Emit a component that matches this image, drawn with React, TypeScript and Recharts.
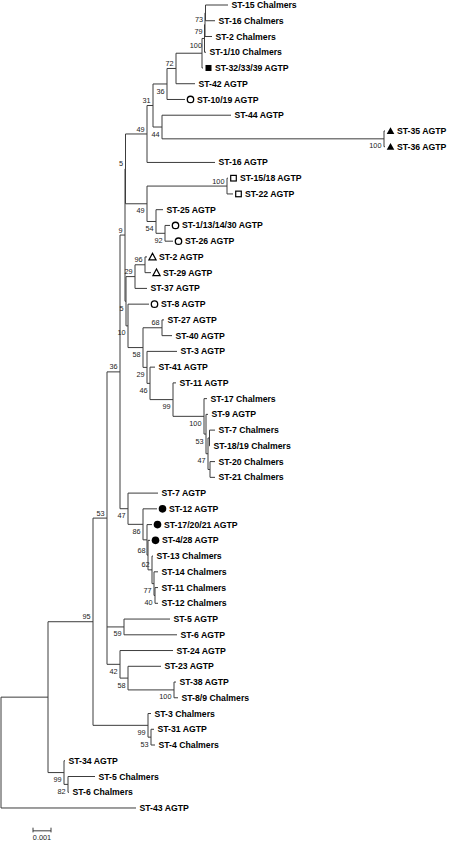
import React from 'react';
import { ScatterChart, Scatter, XAxis, YAxis, ReferenceLine } from 'recharts';

// leaves, top to bottom
const tipNames = [
  'ST-15 Chalmers', 'ST-16 Chalmers', 'ST-2 Chalmers', 'ST-1/10 Chalmers', 'ST-32/33/39 AGTP',
  'ST-42 AGTP', 'ST-10/19 AGTP', 'ST-44 AGTP', 'ST-35 AGTP', 'ST-36 AGTP',
  'ST-16 AGTP', 'ST-15/18 AGTP', 'ST-22 AGTP', 'ST-25 AGTP', 'ST-1/13/14/30 AGTP',
  'ST-26 AGTP', 'ST-2 AGTP', 'ST-29 AGTP', 'ST-37 AGTP', 'ST-8 AGTP',
  'ST-27 AGTP', 'ST-40 AGTP', 'ST-3 AGTP', 'ST-41 AGTP', 'ST-11 AGTP',
  'ST-17 Chalmers', 'ST-9 AGTP', 'ST-7 Chalmers', 'ST-18/19 Chalmers', 'ST-20 Chalmers',
  'ST-21 Chalmers', 'ST-7 AGTP', 'ST-12 AGTP', 'ST-17/20/21 AGTP', 'ST-4/28 AGTP',
  'ST-13 Chalmers', 'ST-14 Chalmers', 'ST-11 Chalmers', 'ST-12 Chalmers', 'ST-5 AGTP',
  'ST-6 AGTP', 'ST-24 AGTP', 'ST-23 AGTP', 'ST-38 AGTP', 'ST-8/9 Chalmers',
  'ST-3 Chalmers', 'ST-31 AGTP', 'ST-4 Chalmers', 'ST-34 AGTP', 'ST-5 Chalmers',
  'ST-6 Chalmers', 'ST-43 AGTP',
];

const tipParents = [
  'n73', 'n73', 'n79', 'nx', 'n100a',
  'n72', 'n36t', 'n44', 'n100t', 'n100t',
  'n49a', 'n100s', 'n100s', 'n54', 'n92',
  'n92', 'n96', 'n96', 'n29a', 'n10',
  'n68b', 'n68b', 'n29b', 'n46', 'n99m',
  'n100m', 'nc', 'nd', 'nd', 'n47c',
  'n47c', 'n47', 'nw', 'n86', 'n68',
  'n62', 'n77', 'n40', 'n40', 'n59',
  'n59', 'n42', 'n58', 'n100d', 'n100d',
  'n99c', 'n53c', 'n53c', 'n99b', 'n82',
  'n82', 'root',
];

// distance from the left edge of the tree (scale bar 0.001 = 18 units)
const tipDepths = [
  228, 215, 212, 206, 203,
  195, 185, 231, 385, 385,
  215, 228, 233, 163, 170,
  173, 147, 151, 147, 149,
  164, 172, 177, 155, 176,
  207, 208, 215, 210, 215,
  215, 158, 157, 152, 150,
  153, 158, 158, 158, 170,
  177, 173, 161, 176, 178,
  151, 154, 155, 65, 95,
  69, 136,
];

const tipMarkers = [
  '', '', '', '', 'fs',
  '', 'oc', '', 'ft', 'ft',
  '', 'os', 'os', '', 'oc',
  'oc', 'ot', 'ot', '', 'oc',
  '', '', '', '', '',
  '', '', '', '', '',
  '', '', 'fc', 'fc', 'fc',
  '', '', '', '', '',
  '', '', '', '', '',
  '', '', '', '', '',
  '', '',
];

const nodeIds = [
  'root', 'na', 'n95', 'n99b', 'n82', 'n53', 'n99c', 'n53c', 'n36', 'n59',
  'n42', 'n58', 'n100d', 'n9', 'n47', 'nw', 'n86', 'n68', 'n62', 'n77',
  'n40', 'n5a', 'n49a', 'n31', 'n36t', 'n72', 'n100a', 'nx', 'n79', 'n73',
  'n44', 'n100t', 'n49b', 'n100s', 'n54', 'n92', 'n5b', 'n29a', 'n96', 'n10',
  'n58b', 'n68b', 'n29b', 'n46', 'n99m', 'n100m', 'nc', 'n53m', 'nd', 'n47c',
];

const nodeParents = [
  '', 'root', 'na', 'na', 'n99b', 'n95', 'n95', 'n99c', 'n53', 'n53',
  'n53', 'n42', 'n58', 'n36', 'n36', 'n47', 'nw', 'n86', 'n68', 'n62',
  'n77', 'n9', 'n5a', 'n49a', 'n31', 'n36t', 'n72', 'n100a', 'nx', 'n79',
  'n31', 'n44', 'n5a', 'n49b', 'n49b', 'n54', 'n9', 'n5b', 'n29a', 'n5b',
  'n10', 'n58b', 'n58b', 'n29b', 'n46', 'n99m', 'n100m', 'nc', 'n53m', 'n53m',
];

const nodeDepths = [
  1, 48, 93, 64, 68, 107, 148, 151, 120, 124,
  120, 128, 174, 125, 128, 143, 147, 148, 152, 154,
  155, 125.5, 147, 153, 167, 176, 202, 204.5, 205, 205.5,
  162, 384, 147, 227, 156, 165, 126, 135, 145, 128,
  143, 162, 147, 150, 173, 204, 206, 208, 209.5, 210,
];

const nodeSupport = [
  '', '', '95', '99', '82', '53', '99', '53', '36', '59',
  '42', '58', '100', '9', '47', '86', '', '68', '62', '77',
  '40', '5', '49', '31', '36', '72', '', '100', '79', '73',
  '44', '100', '49', '100', '54', '92', '5', '29', '96', '10',
  '58', '68', '29', '46', '99', '100', '53', '47', '', '',
];

const scaleBarLabel = '0.001';
const scaleBarUnits = 18;

// support values drawn above the branch instead of below
const LABEL_ABOVE = new Set([
  'n72', 'n31', 'n49a', 'n5a', 'n100s', 'n9', 'n96', 'n29a', 'n68b', 'n36', 'n68', 'n62', 'n53', 'n95',
]);

const W = 453;
const H = 841;
const ROW = 15.745;
const Y0 = -5 / ROW;
const LINE = '#3c3c3c';
const FONT = '"Liberation Sans", Arial, sans-serif';

// build the tree
const kids = new Map<string, { tip: boolean; i: number }[]>();
nodeIds.forEach((id) => kids.set(id, []));
tipNames.forEach((_, i) => kids.get(tipParents[i])!.push({ tip: true, i }));
nodeIds.forEach((_, i) => {
  if (nodeParents[i]) kids.get(nodeParents[i])!.push({ tip: false, i });
});

const yMemo = new Map<string, [number, number, number]>();
function nodeY(id: string): [number, number, number] {
  if (yMemo.has(id)) return yMemo.get(id)!;
  const ys = kids.get(id)!.map((k) => (k.tip ? k.i : nodeY(nodeIds[k.i])[0]));
  const lo = Math.min(...ys);
  const hi = Math.max(...ys);
  const r: [number, number, number] = [(lo + hi) / 2, lo, hi];
  yMemo.set(id, r);
  return r;
}

const depthOf = new Map(nodeIds.map((id, i) => [id, nodeDepths[i]]));

type Seg = [{ x: number; y: number }, { x: number; y: number }];
const segments: Seg[] = [];
nodeIds.forEach((id, i) => {
  const [, lo, hi] = nodeY(id);
  const x = nodeDepths[i];
  segments.push([{ x, y: lo }, { x, y: hi }]);
  kids.get(id)!.forEach((k) => {
    const cy = k.tip ? k.i : nodeY(nodeIds[k.i])[0];
    const cx = k.tip ? tipDepths[k.i] : nodeDepths[k.i];
    if (cx > x) segments.push([{ x, y: cy }, { x: cx, y: cy }]);
  });
});

const tipPoints = tipNames.map((name, i) => ({
  x: tipDepths[i],
  y: i,
  name,
  marker: tipMarkers[i],
}));

const supportPoints = nodeIds
  .map((id, i) => ({
    x: nodeDepths[i],
    y: nodeY(id)[0],
    label: nodeSupport[i],
    above: LABEL_ABOVE.has(id),
  }))
  .filter((p) => p.label);

const barY = 52.45;
const barX = 33;

const Marker = ({ kind, x, y }: { kind: string; x: number; y: number }) => {
  switch (kind) {
    case 'fs':
      return <rect x={x - 3} y={y - 3} width={6} height={6} fill="#000" />;
    case 'os':
      return <rect x={x - 2.8} y={y - 2.8} width={5.6} height={5.6} fill="none" stroke="#000" strokeWidth={1.2} />;
    case 'oc':
      return <circle cx={x} cy={y} r={3.2} fill="none" stroke="#000" strokeWidth={1.3} />;
    case 'fc':
      return <circle cx={x} cy={y} r={3.8} fill="#000" />;
    case 'ft':
      return <path d={`M${x - 3.8},${y + 3} L${x + 3.8},${y + 3} L${x},${y - 3.8} Z`} fill="#000" />;
    case 'ot':
      return (
        <path
          d={`M${x - 3.6},${y + 3} L${x + 3.6},${y + 3} L${x},${y - 3.6} Z`}
          fill="none"
          stroke="#000"
          strokeWidth={1.2}
        />
      );
    default:
      return null;
  }
};

const TipShape = (props: any) => {
  const { cx, cy, payload } = props;
  const hasMarker = !!payload.marker;
  return (
    <g>
      {hasMarker && <Marker kind={payload.marker} x={cx + 5.5} y={cy} />}
      <text
        x={cx + (hasMarker ? 12 : 3.5)}
        y={cy}
        dy="0.35em"
        fontFamily={FONT}
        fontWeight="bold"
        fontSize={8.7}
        fill="#000"
      >
        {payload.name}
      </text>
    </g>
  );
};

const SupportShape = (props: any) => {
  const { cx, cy, payload } = props;
  return (
    <text
      x={cx - 2.5}
      y={cy + (payload.above ? -5 : 7)}
      dy="0.35em"
      textAnchor="end"
      fontFamily={FONT}
      fontSize={7.3}
      fill="#222"
    >
      {payload.label}
    </text>
  );
};

const ScaleShape = (props: any) => {
  const { cx, cy } = props;
  return (
    <text x={cx} y={cy + 6.5} dy="0.35em" textAnchor="middle" fontFamily={FONT} fontSize={7.3} fill="#222">
      {scaleBarLabel}
    </text>
  );
};

const App: React.FC = () => {
  return (
    <div style={{ position: 'absolute', left: 0, top: 0, width: W, height: H, background: '#fff' }}>
      <ScatterChart width={W} height={H} margin={{ top: 0, right: 0, bottom: 0, left: 0 }}>
        <XAxis type="number" dataKey="x" domain={[0, W]} hide allowDataOverflow />
        <YAxis type="number" dataKey="y" domain={[Y0, Y0 + H / ROW]} reversed hide allowDataOverflow />
        {segments.map((s, i) => (
          <ReferenceLine key={i} segment={s} stroke={LINE} strokeWidth={1} ifOverflow="visible" />
        ))}
        <ReferenceLine
          segment={[{ x: barX, y: barY }, { x: barX + scaleBarUnits, y: barY }]}
          stroke={LINE}
          ifOverflow="visible"
        />
        <ReferenceLine
          segment={[{ x: barX, y: barY - 0.2 }, { x: barX, y: barY + 0.1 }]}
          stroke={LINE}
          ifOverflow="visible"
        />
        <ReferenceLine
          segment={[{ x: barX + scaleBarUnits, y: barY - 0.2 }, { x: barX + scaleBarUnits, y: barY + 0.1 }]}
          stroke={LINE}
          ifOverflow="visible"
        />
        <Scatter data={tipPoints} shape={<TipShape />} isAnimationActive={false} />
        <Scatter data={supportPoints} shape={<SupportShape />} isAnimationActive={false} />
        <Scatter
          data={[{ x: barX + scaleBarUnits / 2, y: barY }]}
          shape={<ScaleShape />}
          isAnimationActive={false}
        />
      </ScatterChart>
    </div>
  );
};

export default App;
